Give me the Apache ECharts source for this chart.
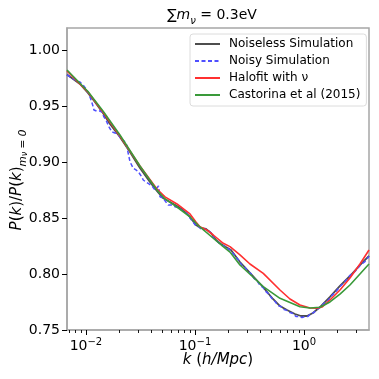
<!DOCTYPE html>
<html>
<head>
<meta charset="utf-8">
<script src="https://cdn.jsdelivr.net/npm/echarts@6/dist/echarts.min.js"></script>
<style>
  html, body { margin: 0; padding: 0; background: #fff; }
  #chart { width: 379px; height: 379px; }
</style>
</head>
<body>
<div id="chart"></div>
<script>
// k (h/Mpc) and P(k)/P(k)_{m_nu=0}
const noiselessK = [0.0067, 0.00881, 0.01043, 0.01209, 0.01432, 0.0166, 0.0205, 0.02533, 0.03128, 0.03863,
  0.04477, 0.0508, 0.059, 0.0684, 0.0776, 0.09, 0.1021, 0.1135, 0.1262, 0.1402,
  0.1559, 0.1733, 0.1925, 0.214, 0.2587, 0.3404, 0.4207, 0.5196, 0.6025, 0.6985,
  0.8269, 0.9387, 1.065, 1.209, 1.402, 1.732, 2.139, 2.642, 3.263, 3.95];
const noiselessY = [0.978, 0.9696, 0.9616, 0.9536, 0.9438, 0.9339, 0.9223, 0.9089, 0.8946, 0.8821,
  0.8741, 0.8679, 0.8643, 0.8607, 0.8571, 0.8509, 0.8438, 0.8411, 0.8402, 0.8366,
  0.8304, 0.8268, 0.8241, 0.8214, 0.8107, 0.7982, 0.7884, 0.7777, 0.7714, 0.7679,
  0.7643, 0.7625, 0.7625, 0.7652, 0.7705, 0.7795, 0.7893, 0.7982, 0.8080, 0.8161];

const noisyK = [0.00669, 0.00744, 0.00827, 0.00881, 0.00939, 0.0100, 0.01043, 0.01104, 0.01159, 0.01184,
  0.01262, 0.01344, 0.01402, 0.01462, 0.01526, 0.01626, 0.01732, 0.01845, 0.01966, 0.02095,
  0.02232, 0.02362, 0.02428, 0.02533, 0.02716, 0.02874, 0.03018, 0.03243, 0.03354, 0.03552,
  0.03784, 0.04031, 0.04295, 0.04481, 0.04625, 0.04774, 0.05086, 0.05419, 0.05689, 0.06152,
  0.06554, 0.07132, 0.0776, 0.08268, 0.08997, 0.09587, 0.1021, 0.1088, 0.1159, 0.1235,
  0.1288, 0.1344, 0.1432, 0.1526, 0.1626, 0.1732, 0.1845, 0.1966, 0.2095, 0.2232,
  0.2378, 0.2533, 0.2699, 0.2876, 0.3064, 0.3265, 0.3478, 0.3706, 0.3948, 0.4206,
  0.4481, 0.4774, 0.5086, 0.5419, 0.5773, 0.6152, 0.6554, 0.6983, 0.7439, 0.7925,
  0.8444, 0.8997, 0.9587, 1.021, 1.088, 1.159, 1.235, 1.316, 1.402, 1.526,
  1.661, 1.807, 1.966, 2.139, 2.378, 2.642, 2.938, 3.264, 3.627, 3.948];
const noisyY = [0.9777, 0.9750, 0.9723, 0.9714, 0.9688, 0.9654, 0.9625, 0.9565, 0.9500, 0.9464,
  0.9453, 0.9455, 0.9446, 0.9402, 0.9375, 0.9313, 0.9268, 0.9259, 0.9250, 0.9205,
  0.9188, 0.9152, 0.9089, 0.9003, 0.8944, 0.8929, 0.8913, 0.8869, 0.8839, 0.8821,
  0.8804, 0.8786, 0.8750, 0.8768, 0.8786, 0.8690, 0.8679, 0.8643, 0.8616, 0.8616,
  0.8601, 0.8589, 0.8563, 0.8554, 0.8500, 0.8464, 0.8429, 0.8420, 0.8393, 0.8402,
  0.8411, 0.8384, 0.8357, 0.8304, 0.8286, 0.8259, 0.8250, 0.8232, 0.8214, 0.8185,
  0.8148, 0.8120, 0.8075, 0.8058, 0.8022, 0.8004, 0.7960, 0.7942, 0.7898, 0.7880,
  0.7843, 0.7818, 0.7781, 0.7755, 0.7718, 0.7710, 0.7683, 0.7675, 0.7656, 0.7648,
  0.7620, 0.7621, 0.7611, 0.7620, 0.7621, 0.7648, 0.7656, 0.7684, 0.7700, 0.7737,
  0.7763, 0.7809, 0.7843, 0.7889, 0.7933, 0.7987, 0.8022, 0.8076, 0.8111, 0.8157];

const halofitK = [0.0067, 0.01043, 0.01432, 0.0205, 0.03128, 0.04477, 0.0531, 0.0684, 0.09, 0.1021,
  0.111, 0.128, 0.1472, 0.1818, 0.2096, 0.2587, 0.3196, 0.4232, 0.6025, 0.744,
  0.919, 1.135, 1.316, 1.463, 1.732, 2.139, 2.642, 3.263, 3.95];
const halofitY = [0.9813, 0.9625, 0.9446, 0.9232, 0.8964, 0.8759, 0.8688, 0.8625, 0.8536, 0.8464,
  0.8422, 0.8393, 0.8348, 0.8274, 0.8244, 0.8170, 0.8089, 0.8006, 0.7857, 0.7777,
  0.7723, 0.7696, 0.7694, 0.7705, 0.7768, 0.7857, 0.7964, 0.8089, 0.8214];

const castorinaK = [0.0067, 0.01043, 0.01432, 0.0205, 0.03128, 0.04477, 0.0531, 0.0684, 0.09, 0.111,
  0.1472, 0.1818, 0.2096, 0.2587, 0.3404, 0.4232, 0.6025, 0.919, 1.135, 1.402,
  1.732, 2.139, 2.642, 3.263, 3.95];
const castorinaY = [0.9821, 0.9629, 0.9455, 0.9241, 0.8964, 0.8750, 0.8670, 0.8598, 0.8509, 0.8420,
  0.8319, 0.8244, 0.8196, 0.8080, 0.7973, 0.7887, 0.7783, 0.7708, 0.7696, 0.7703,
  0.7750, 0.7821, 0.7902, 0.8000, 0.8089];

const xMajorTicks = [0.01, 0.1, 1];
const xMinorTicks = [0.007, 0.008, 0.009, 0.02, 0.03, 0.04, 0.05, 0.06, 0.07, 0.08, 0.09,
  0.2, 0.3, 0.4, 0.5, 0.6, 0.7, 0.8, 0.9, 2, 3];
const yTicks = [0.75, 0.80, 0.85, 0.90, 0.95, 1.00];

const FONT = 'DejaVu Sans';
const SPINE = '#a6a6a6';

function pairs(xs, ys) {
  return xs.map((x, i) => [x, ys[i]]);
}

const chart = echarts.init(document.getElementById('chart'), null, { renderer: 'canvas' });

chart.setOption({
  animation: false,
  backgroundColor: '#fff',
  textStyle: { fontFamily: FONT },
  grid: {
    left: 67, right: 10, top: 28, bottom: 49,
    containLabel: false,
    show: true,
    borderColor: SPINE,
    borderWidth: 1.5,
    backgroundColor: '#fff'
  },
  legend: {
    orient: 'vertical',
    left: 190, top: 34,
    padding: [4, 6, 5, 4],
    itemWidth: 25, itemHeight: 12, itemGap: 5,
    backgroundColor: '#fff',
    borderColor: '#dcdcdc',
    borderWidth: 1,
    borderRadius: 3,
    itemStyle: { opacity: 0 },
    textStyle: { fontFamily: FONT, fontSize: 12, color: '#000', padding: [0, 0, 0, 4] },
    data: ['Noiseless Simulation', 'Noisy Simulation', 'Halofit with ν', 'Castorina et al (2015)']
  },
  xAxis: [{
    type: 'log',
    logBase: 10,
    min: 0.0067,
    max: 3.95,
    axisLine: { show: true, lineStyle: { color: SPINE, width: 1.5 } },
    axisTick: { show: true, length: 5, lineStyle: { color: '#000', width: 1 }, customValues: xMajorTicks },
    axisLabel: {
      customValues: xMajorTicks,
      margin: 7,
      formatter: function (v) {
        const e = Math.round(Math.log10(v));
        return '{b|10}{p|' + (e < 0 ? '\u2212' + (-e) : e) + '}';
      },
      rich: {
        b: { fontFamily: FONT, fontSize: 14, color: '#000', lineHeight: 18 },
        p: { fontFamily: FONT, fontSize: 10, color: '#000', lineHeight: 10, verticalAlign: 'top' }
      }
    },
    splitLine: { show: false }
  }, {
    // minor ticks: the second (top) axis slid down onto the bottom spine
    type: 'log',
    logBase: 10,
    min: 0.0067,
    max: 3.95,
    offset: -302,
    axisLine: { show: false },
    axisTick: { show: true, inside: true, length: 3, lineStyle: { color: '#000', width: 0.9 }, customValues: xMinorTicks },
    axisLabel: { show: false },
    splitLine: { show: false }
  }],
  yAxis: {
    type: 'value',
    min: 0.75,
    max: 1.0196,
    axisLine: { show: true, lineStyle: { color: SPINE, width: 1.5 } },
    axisTick: { show: true, length: 5, lineStyle: { color: '#000', width: 1 }, customValues: yTicks },
    axisLabel: {
      customValues: yTicks,
      margin: 7,
      fontFamily: FONT, fontSize: 14, color: '#000',
      formatter: v => v.toFixed(2)
    },
    splitLine: { show: false }
  },
  graphic: [{
    type: 'text',
    x: 212, y: 15,
    style: {
      text: '{n|\u2211}{i|m}{s|\u03bd}{n| = 0.3eV}',
      align: 'center', verticalAlign: 'middle',
      rich: {
        n: { fontFamily: FONT, fontSize: 14, fill: '#000', lineHeight: 22 },
        i: { fontFamily: FONT, fontSize: 14, fontStyle: 'italic', fill: '#000', lineHeight: 22 },
        s: { fontFamily: FONT, fontSize: 10, fontStyle: 'italic', fill: '#000', lineHeight: 12, verticalAlign: 'bottom' }
      }
    }
  }, {
    type: 'text',
    x: 218, y: 360,
    style: {
      text: '{i|k}{n| (}{i|h/Mpc}{n|)}',
      align: 'center', verticalAlign: 'middle',
      rich: {
        n: { fontFamily: FONT, fontSize: 15, fill: '#000' },
        i: { fontFamily: FONT, fontSize: 15, fontStyle: 'italic', fill: '#000' }
      }
    }
  }, {
    type: 'text',
    x: 17, y: 180,
    rotation: Math.PI / 2,
    style: {
      text: '{i|P}{n|(}{i|k}{n|)/}{i|P}{n|(}{i|k}{n|)}{s|m}{ss|\u03bd}{s| = 0}',
      align: 'center', verticalAlign: 'middle',
      rich: {
        n: { fontFamily: FONT, fontSize: 15, fill: '#000', lineHeight: 24 },
        i: { fontFamily: FONT, fontSize: 15, fontStyle: 'italic', fill: '#000', lineHeight: 24 },
        s: { fontFamily: FONT, fontSize: 10.5, fontStyle: 'italic', fill: '#000', lineHeight: 14, verticalAlign: 'bottom' },
        ss: { fontFamily: FONT, fontSize: 8, fontStyle: 'italic', fill: '#000', lineHeight: 9, verticalAlign: 'bottom' }
      }
    }
  }],
  series: [{
    name: 'Noiseless Simulation',
    type: 'line',
    symbol: 'none',
    data: pairs(noiselessK, noiselessY),
    lineStyle: { color: '#4d4d4d', width: 1.8 },
    itemStyle: { color: '#4d4d4d' }
  }, {
    name: 'Noisy Simulation',
    type: 'line',
    symbol: 'none',
    data: pairs(noisyK, noisyY),
    lineStyle: { color: '#4f4fff', width: 1.5, type: [4, 2.5] },
    itemStyle: { color: '#4f4fff' }
  }, {
    name: 'Halofit with ν',
    type: 'line',
    symbol: 'none',
    data: pairs(halofitK, halofitY),
    lineStyle: { color: '#ff3030', width: 1.6 },
    itemStyle: { color: '#ff3030' }
  }, {
    name: 'Castorina et al (2015)',
    type: 'line',
    symbol: 'none',
    data: pairs(castorinaK, castorinaY),
    lineStyle: { color: '#3a9a3a', width: 1.6 },
    itemStyle: { color: '#3a9a3a' }
  }]
});
</script>
</body>
</html>
